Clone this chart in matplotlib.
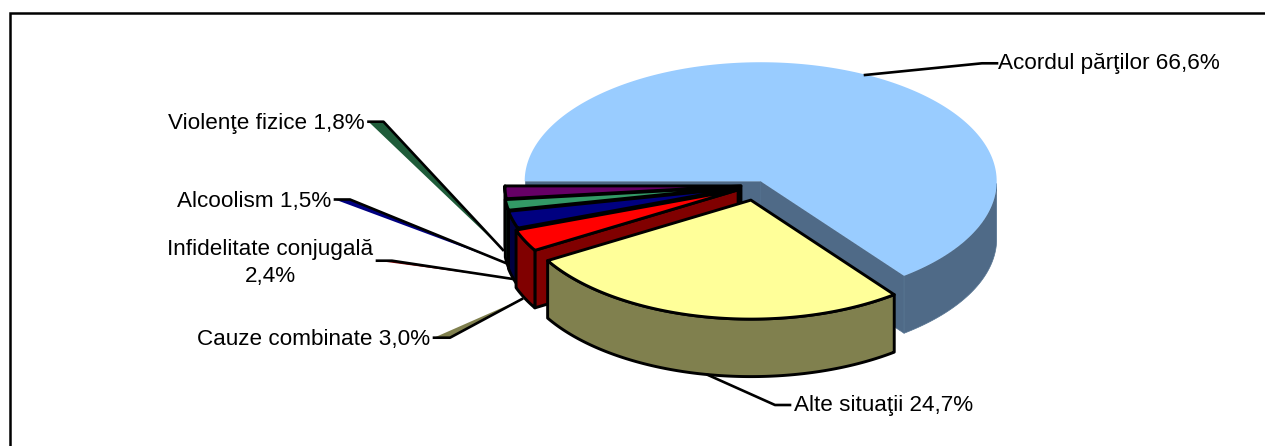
import numpy as np
import matplotlib
matplotlib.use('Agg')
import matplotlib.pyplot as plt
from matplotlib.patches import Polygon

# data, clockwise from the left side of the pie
names = ['Acordul părţilor', 'Alte situaţii', 'Cauze combinate',
         'Infidelitate conjugală', 'Alcoolism', 'Violenţe fizice']
shares = [66.6, 24.7, 3.0, 2.4, 1.5, 1.8]

top_colors = ['#99CCFF', '#FFFF99', '#FF0000', '#000080', '#339966', '#660066']
side_colors = ['#4F6A87', '#80804E', '#800000', '#000040', '#1A4D33', '#330033']
explode = [0.04, 0.125, 0.086, 0.073, 0.071, 0.066]

# geometry in pixels
cx, cy = 756.5, 185.5
rx, ry = 236, 119
depth = 57.5
persp = 3.9    # degrees, the near side of the pie looks wider
persp2 = -1.5

# label placement: anchor x, anchor y, alignment
label_pos = [(998, 64, 'left'), (794, 406, 'left'), (430, 340, 'right'),
             (270, 263, 'center'), (331, 202, 'right'), (365, 124, 'right')]
# leader lines: start, knee, end
leaders = [((997, 63.3), (982, 63.3), (865, 75)),
           ((790, 405), (775, 405), (708, 375)),
           ((434, 337.7), (450, 337.7), (522, 299)),
           ((377, 260.7), (392, 260.7), (513, 279)),
           ((335, 199.5), (350, 199.5), (505.7, 263)),
           ((368.5, 121.7), (383.5, 121.7), (503, 250))]
leader_fill = [None, None, '#80804E', '#800000', '#000080', '#1F5C3A']


def screen_angle(t):
    a = np.radians(t)
    return t + persp * (np.cos(a) - 1) + persp2 * np.sin(2 * a)


def ell(ax0, ay0, phi):
    a = np.radians(phi)
    return ax0 - rx * np.cos(a), ay0 - ry * np.sin(a)


fig = plt.figure(figsize=(12.65, 4.46), dpi=100)
ax = fig.add_axes([0, 0, 1, 1])
ax.set_xlim(0, 1265)
ax.set_ylim(446, 0)
ax.axis('off')

# outer frame, right and bottom sides fall outside the picture
ax.plot([10, 10, 1266], [447, 13, 13], color='black', lw=1.8, solid_joinstyle='miter')

edges = np.cumsum([0] + shares) / sum(shares) * 360
# blue goes first, then the small slices back to front, yellow comes last
for i in [0, 5, 4, 3, 2, 1]:
    phi0 = screen_angle(edges[i])
    phi1 = screen_angle(edges[i + 1])
    mid = np.radians((phi0 + phi1) / 2)
    ax0 = cx - explode[i] * rx * np.cos(mid)
    ay0 = cy - explode[i] * ry * np.sin(mid)
    arc = np.linspace(phi0, phi1, 200)
    xs, ys = ell(ax0, ay0, arc)

    if i == 0:
        ec, lw = '#557391', 0.5
    else:
        ec, lw = 'black', 2.1

    # radial cut faces turned to the viewer
    cuts = [phi0, phi1] if i == 0 else [phi0]
    if i == 1:
        cuts = []
    for phi in cuts:
        ex, ey = ell(ax0, ay0, phi)
        ax.add_patch(Polygon([(ax0, ay0), (ex, ey), (ex, ey + depth), (ax0, ay0 + depth)],
                             closed=True, fc=side_colors[i], ec=ec, lw=lw, joinstyle='round'))

    # outer wall, front half only
    front = arc[arc >= 180]
    if len(front) > 1:
        fx, fy = ell(ax0, ay0, front)
        wall = np.column_stack([np.r_[fx, fx[::-1]], np.r_[fy, fy[::-1] + depth]])
        ax.add_patch(Polygon(wall, closed=True, fc=side_colors[i], ec=ec, lw=lw, joinstyle='round'))

    # top face
    top = np.column_stack([np.r_[ax0, xs], np.r_[ay0, ys]])
    ax.add_patch(Polygon(top, closed=True, fc=top_colors[i],
                         ec='none' if i == 0 else 'black', lw=lw, joinstyle='round'))

for pts, fill in zip(leaders, leader_fill):
    if fill:
        ax.add_patch(Polygon(pts, closed=True, fc=fill, ec='none'))
    ax.plot(*zip(*pts), color='black', lw=1.9, solid_joinstyle='round')

for name, val, (lx, ly, ha) in zip(names, shares, label_pos):
    pct = f'{val:.1f}%'.replace('.', ',')
    sep = '\n' if ha == 'center' else ' '
    ax.text(lx, ly, name + sep + pct, ha=ha, va='center', fontsize=16.2,
            family='Liberation Sans', color='black', linespacing=1.4)

fig.savefig('out.png', dpi=100)
